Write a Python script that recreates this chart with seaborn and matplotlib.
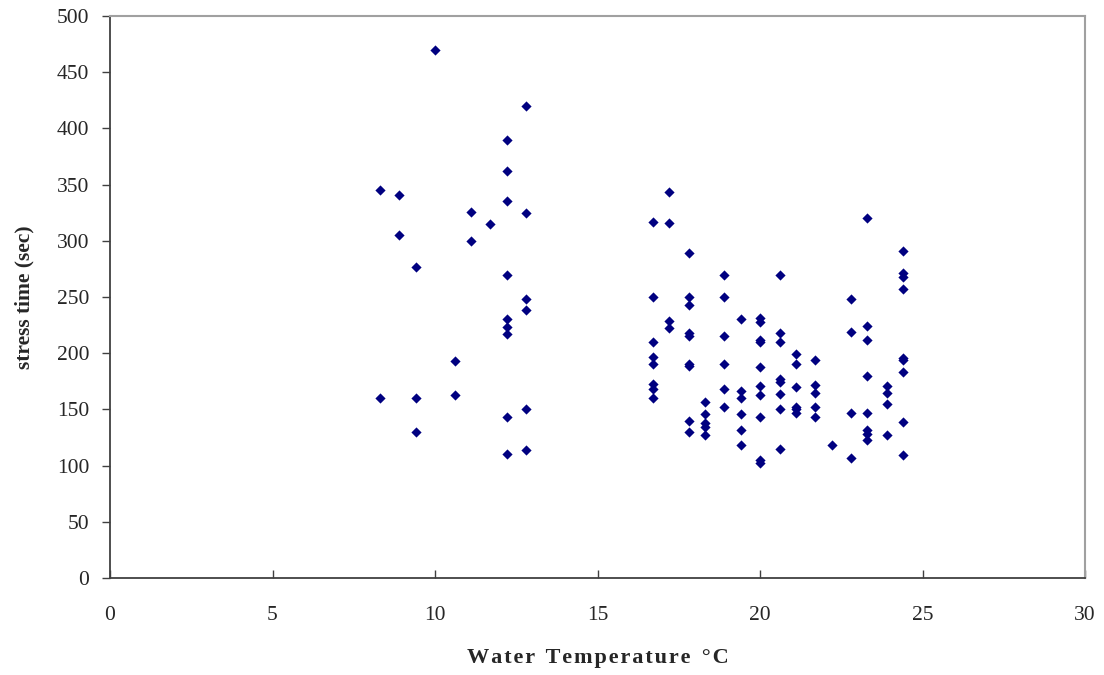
import pandas as pd
import matplotlib
matplotlib.use("Agg")
import matplotlib.pyplot as plt
import seaborn as sns

# Data: water temperature (C) and stress time (sec)
temp_c = (
    [8.3, 8.3]
    + [8.9, 8.9]
    + [9.4, 9.4, 9.4]
    + [10.0]
    + [10.6, 10.6]
    + [11.1, 11.1]
    + [11.7]
    + [12.2] * 9
    + [12.8] * 6
    + [16.7] * 8
    + [17.2] * 4
    + [17.8] * 9
    + [18.3] * 5
    + [18.9] * 6
    + [19.4] * 6
    + [20.0] * 10
    + [20.6] * 8
    + [21.1] * 6
    + [21.7] * 5
    + [22.2]
    + [22.8] * 4
    + [23.3] * 8
    + [23.9] * 4
    + [24.4] * 9
)
stress_sec = (
    [345, 160]
    + [341, 305]
    + [277, 160, 130]
    + [470]
    + [193, 163]
    + [326, 300]
    + [315]
    + [390, 362, 335, 270, 230, 223, 217, 143, 110]
    + [420, 325, 248, 238, 150, 114]
    + [317, 250, 210, 197, 190, 173, 168, 160]
    + [343, 316, 229, 222]
    + [289, 250, 243, 218, 215, 190, 189, 140, 130]
    + [157, 146, 138, 134, 127]
    + [270, 250, 215, 190, 168, 152]
    + [230, 166, 160, 146, 132, 118]
    + [231, 228, 212, 210, 188, 171, 163, 143, 105, 102]
    + [270, 218, 210, 177, 174, 164, 150, 115]
    + [199, 190, 170, 152, 150, 147]
    + [194, 172, 165, 152, 143]
    + [118]
    + [248, 219, 147, 107]
    + [320, 224, 212, 180, 147, 132, 128, 123]
    + [171, 165, 155, 127]
    + [291, 271, 268, 257, 196, 194, 183, 139, 109]
)
df = pd.DataFrame({"temp": temp_c, "stress": stress_sec})

sns.set_style("white")
plt.rcParams["font.family"] = ["Liberation Serif", "DejaVu Serif"]

fig = plt.figure(figsize=(11.04, 6.75), dpi=100)
ax = fig.add_axes([110 / 1104, 97 / 675, 975 / 1104, 562 / 675])

sns.scatterplot(data=df, x="temp", y="stress", marker="D", s=27,
                color="#000080", linewidth=0, ax=ax)

ax.set_xlim(0, 30)
ax.set_ylim(0, 500)
ax.set_xticks(range(0, 31, 5))
ax.set_yticks(range(0, 501, 50))
ax.tick_params(axis="x", direction="in", length=6, width=1, color="#404040",
               labelsize=15.5, pad=20)
ax.tick_params(axis="y", direction="out", length=6, width=1, color="#404040",
               labelsize=15.5, pad=9)
ax.tick_params(bottom=True, left=True)

for side in ["left", "bottom"]:
    ax.spines[side].set_color("#404040")
    ax.spines[side].set_linewidth(1.3)
for side in ["top", "right"]:
    ax.spines[side].set_color("#a0a0a0")
    ax.spines[side].set_linewidth(1.5)

# letter-spaced axis title, as in the original
hair = "\u200a"
xlab = "  ".join(hair.join(word) for word in ["Water", "Temperature", "°C"])
ax.set_xlabel(xlab, fontsize=16, fontweight="bold", labelpad=17)
ax.set_ylabel("stress time (sec)", fontsize=15.5, fontweight="bold", labelpad=16)

fig.savefig("out.png", dpi=100)
